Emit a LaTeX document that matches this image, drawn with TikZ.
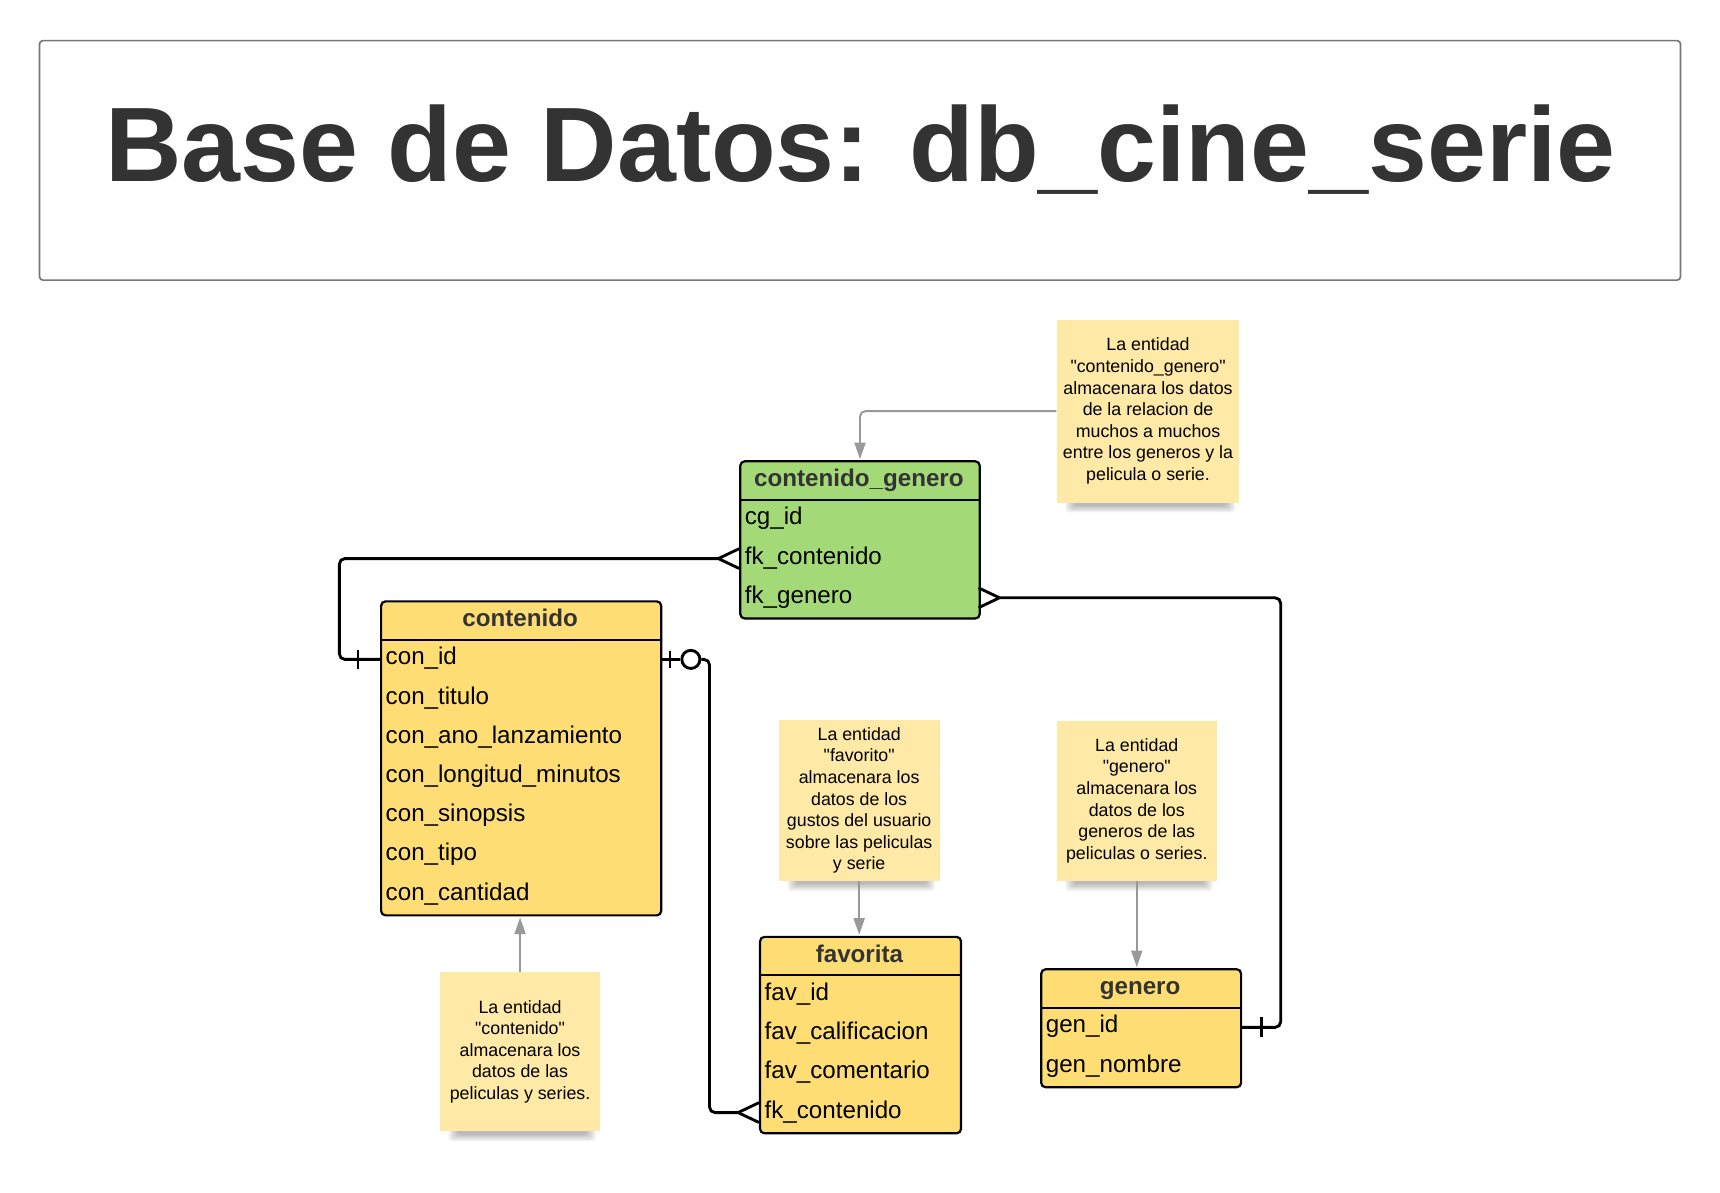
\documentclass[tikz,border=0pt]{standalone}
\usepackage{fontspec}
\setmainfont{Liberation Sans}[Ligatures=TeXOff]
\usetikzlibrary{arrows.meta}
\definecolor{entyellow}{HTML}{FFDD75}
\definecolor{entgreen}{HTML}{A3D977}
\definecolor{notecol}{HTML}{FFE9A6}
\definecolor{titletext}{HTML}{333333}
\definecolor{notearrowcol}{HTML}{999999}
\definecolor{titleborder}{HTML}{777777}

\newcommand\rowh{35.7}
% name, left, top, right, nrows, fill, title, rows
\newcommand\erentity[8]{%
  \pgfmathsetmacro\erbot{#3+36+#5*\rowh}
  \node[entbox, fill=#6, anchor=north west, minimum width={#4-#2}, minimum height={\erbot-(#3)}] (#1) at (#2,#3) {};
  \draw[entline] ({#2},{#3+36}) -- ({#4},{#3+36});
  \node[hdrtxt] (#1-title) at ({(#2+#4)/2},{#3+24.3}) {#7};
  \foreach \rtext [count=\ri] in {#8} {
    \pgfmathsetmacro\rc{#3+36+(\ri-0.5)*\rowh}
    \node[rowtxt] (#1-\ri) at ({#2+5},{\rc+5}) {\rtext};
    \coordinate (#1-\ri-L) at ({#2},\rc);
    \coordinate (#1-\ri-R) at ({#4},\rc);
  }
}
% name, left, top, right, bottom, text
\newcommand\ernote[6]{%
  \foreach \k in {0,...,5} {
    \fill[black, opacity=0.05, rounded corners=3pt] ({#2+8+1.6*\k},{#5-3}) rectangle ({#4-4-1.6*\k},{#5+9-1.2*\k});
  }
  \node[notebox, minimum width={#4-#2}, minimum height={#5-#3}] (#1) at ({(#2+#4)/2},{(#3+#5)/2}) {#6};
}

\begin{document}
\begin{tikzpicture}[x=1pt, y=-1pt,
  entbox/.style={draw=black, line width=2pt, rounded corners=4pt, inner sep=0pt},
  entline/.style={draw=black, line width=2pt},
  hdrtxt/.style={anchor=base, inner sep=0pt, text=titletext, font=\fontsize{22}{26}\selectfont\bfseries},
  rowtxt/.style={anchor=base west, inner sep=0pt, text=black, font=\fontsize{22}{26}\selectfont},
  notebox/.style={fill=notecol, inner sep=0pt, align=center, text=black, font=\fontsize{16.2}{19.7}\selectfont},
  conn/.style={draw=black, line width=2.6pt, rounded corners=5pt},
  tick/.style={draw=black, line width=2.6pt},
  notearr/.style={draw=notearrowcol, line width=1.8pt, rounded corners=5pt, -{Triangle[width=10pt,length=15pt]}, shorten >=1pt}
]
\useasboundingbox (0,0) rectangle (1566,1085.3);

% title
\node[draw=titleborder, line width=1.5pt, rounded corners=3pt, minimum width=1494pt, minimum height=218pt, inner sep=0pt] (titlebox) at (783,146) {};
\node[anchor=base, inner sep=0pt, text=titletext, font=\fontsize{96.4}{100}\selectfont\bfseries] (title) at (783.5,165) {Base de Datos: db\_cine\_serie};

% notes
\ernote{cgnote}{962}{291}{1128.5}{457.5}{La entidad\\"contenido\_genero"\\almacenara los datos\\de la relacion de\\muchos a muchos\\entre los generos y la\\pelicula o serie.}
\ernote{favnote}{709}{655.5}{855.5}{802}{La entidad\\"favorito"\\almacenara los\\datos de los\\gustos del usuario\\sobre las peliculas\\y serie}
\ernote{gennote}{962}{656}{1108}{802}{La entidad\\"genero"\\almacenara los\\datos de los\\generos de las\\peliculas o series.}
\ernote{connote}{400.5}{885}{546.5}{1030}{La entidad\\"contenido"\\almacenara los\\datos de las\\peliculas y series.}

% entities
\erentity{cg}{673}{419}{891}{3}{entgreen}{contenido\_genero}{cg\_id,fk\_contenido,fk\_genero}
\erentity{contenido}{346}{546.5}{601}{7}{entyellow}{contenido}{con\_id,con\_titulo,con\_ano\_lanzamiento,con\_longitud\_minutos,con\_sinopsis,con\_tipo,con\_cantidad}
\erentity{favorita}{691}{852}{874}{4}{entyellow}{favorita}{fav\_id,fav\_calificacion,fav\_comentario,fk\_contenido}
\erentity{genero}{947}{881.5}{1129}{2}{entyellow}{genero}{gen\_id,gen\_nombre}

% routing coordinates
\coordinate (lx) at (309,0);
\coordinate (rx) at (646,0);
\coordinate (gx) at (1166,0);

% contenido_genero.fk_contenido >--|| contenido.con_id
\draw[conn] ([xshift=-19pt]cg-2-L) -- (lx |- cg-2-L) -- (lx |- contenido-1-L) -- (contenido-1-L);
\draw[tick] ([xshift=-19pt]cg-2-L) -- ([yshift=9pt]cg-2-L);
\draw[tick] ([xshift=-19pt]cg-2-L) -- ([yshift=-9pt]cg-2-L);
\draw[tick] ([xshift=-20pt,yshift=9pt]contenido-1-L) -- ([xshift=-20pt,yshift=-9pt]contenido-1-L);

% contenido.con_id |o--< favorita.fk_contenido
\node[circle, draw=black, line width=2.6pt, fill=white, minimum size=16.5pt, inner sep=0pt] (zerocirc) at ([xshift=28pt]contenido-1-R) {};
\draw[conn] (contenido-1-R) -- (zerocirc.west);
\draw[tick] ([xshift=9pt,yshift=8pt]contenido-1-R) -- ([xshift=9pt,yshift=-8pt]contenido-1-R);
\draw[conn] (zerocirc.east) -- (rx |- contenido-1-R) -- (rx |- favorita-4-L) -- ([xshift=-19pt]favorita-4-L);
\draw[tick] ([xshift=-19pt]favorita-4-L) -- ([yshift=9pt]favorita-4-L);
\draw[tick] ([xshift=-19pt]favorita-4-L) -- ([yshift=-9pt]favorita-4-L);

% contenido_genero.fk_genero >--| genero.gen_id
\draw[conn] ([xshift=19pt]cg-3-R) -- (gx |- cg-3-R) -- (gx |- genero-1-R) -- (genero-1-R);
\draw[tick] ([xshift=19pt]cg-3-R) -- ([yshift=9pt]cg-3-R);
\draw[tick] ([xshift=19pt]cg-3-R) -- ([yshift=-9pt]cg-3-R);
\draw[tick] ([xshift=19.5pt,yshift=9pt]genero-1-R) -- ([xshift=19.5pt,yshift=-9pt]genero-1-R);

% note arrows
\draw[notearr] (cgnote.west) -- (cg.north |- cgnote.west) -- (cg.north);
\draw[notearr] (favnote.south) -- (favnote.south |- favorita.north);
\draw[notearr] (gennote.south) -- (gennote.south |- genero.north);
\draw[notearr] (connote.north) -- (connote.north |- contenido.south);
\end{tikzpicture}
\end{document}
